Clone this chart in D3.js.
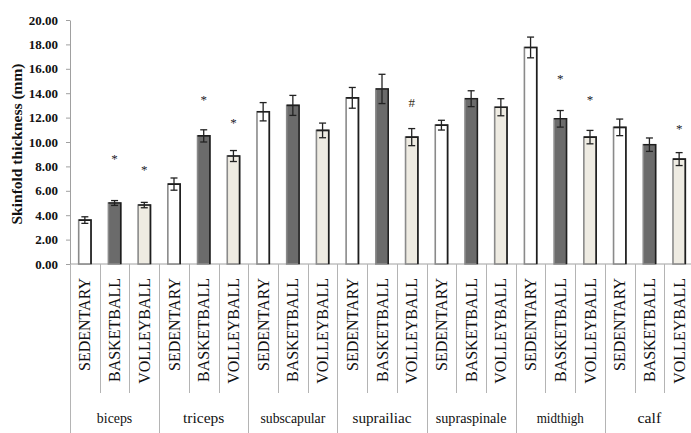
<!DOCTYPE html>
<html>
<head>
<meta charset="utf-8">
<script src="https://cdn.jsdelivr.net/npm/d3@7/dist/d3.min.js"></script>
<style>
  html, body { margin: 0; padding: 0; background: #fff; }
  svg { display: block; }
  svg text { font-family: "Liberation Serif", "Times New Roman", "DejaVu Serif", serif; }
</style>
</head>
<body>
<svg id="chart" width="691" height="433"></svg>
<script>
// Skinfold sites and the three groups compared at each site
const sites = ["biceps", "triceps", "subscapular", "suprailiac", "supraspinale", "midthigh", "calf"];
const groups = ["SEDENTARY", "BASKETBALL", "VOLLEYBALL"];

// Mean skinfold thickness (mm) and error per site
const sedentary      = [3.60, 6.55, 12.48, 13.62, 11.38, 17.75, 11.20];
const sedentaryErr   = [0.27, 0.50, 0.75, 0.85, 0.40, 0.85, 0.68];
const basketball     = [5.00, 10.50, 13.00, 14.35, 13.55, 11.90, 9.78];
const basketballErr  = [0.20, 0.50, 0.82, 1.20, 0.65, 0.68, 0.55];
const volleyball     = [4.83, 8.85, 10.95, 10.40, 12.85, 10.40, 8.60];
const volleyballErr  = [0.22, 0.45, 0.60, 0.70, 0.70, 0.55, 0.53];

// Significance markers: site, group, symbol, height (mm) where the symbol sits
const markSites   = ["biceps", "biceps", "triceps", "triceps", "suprailiac", "midthigh", "midthigh", "calf"];
const markGroups  = ["BASKETBALL", "VOLLEYBALL", "BASKETBALL", "VOLLEYBALL", "VOLLEYBALL", "BASKETBALL", "VOLLEYBALL", "VOLLEYBALL"];
const markSymbols = ["*", "*", "*", "*", "#", "*", "*", "*"];
const markLevels  = [8.66, 7.76, 13.5, 11.66, 13.22, 15.27, 13.5, 11.17];

const yTicks = d3.range(0, 20.001, 2);

const means = { SEDENTARY: sedentary, BASKETBALL: basketball, VOLLEYBALL: volleyball };
const errs  = { SEDENTARY: sedentaryErr, BASKETBALL: basketballErr, VOLLEYBALL: volleyballErr };
const fills = { SEDENTARY: "#ffffff", BASKETBALL: "#6b6b6b", VOLLEYBALL: "#eeebe2" };

// one row per bar, in drawing order
const rows = [];
sites.forEach((s, i) => groups.forEach(g => rows.push({
  key: s + "|" + g, site: s, group: g, value: means[g][i], err: errs[g][i]
})));

const svg = d3.select("#chart");
const plotLeft = 70, plotRight = 694, plotTop = 20, plotBottom = 264;

const x = d3.scaleBand().domain(rows.map(r => r.key)).range([plotLeft, plotRight])
  .paddingInner(0.585).paddingOuter(0.2925);
const y = d3.scaleLinear().domain([0, 20]).range([plotBottom, plotTop]);
const step = x.step();

// y axis
const yAxis = svg.append("g").attr("transform", `translate(${plotLeft},0)`)
  .call(d3.axisLeft(y).tickValues(yTicks).tickFormat(d3.format(".2f")).tickSize(4).tickSizeOuter(0));
yAxis.attr("font-family", null).attr("font-size", null);
yAxis.select(".domain").attr("stroke", "#a0a0a0");
yAxis.selectAll(".tick line").attr("stroke", "#a0a0a0");
yAxis.selectAll(".tick text")
  .attr("x", -12)
  .style("font-weight", "bold").style("font-size", "13px")
  .attr("fill", "#111");

// y axis title
svg.append("text")
  .attr("transform", "translate(22,144) rotate(-90)")
  .attr("text-anchor", "middle")
  .style("font-weight", "bold").style("font-size", "15.5px")
  .attr("fill", "#111")
  .text("Skinfold thickness (mm)");

// baseline
svg.append("line").attr("x1", plotLeft).attr("x2", plotRight).attr("y1", plotBottom).attr("y2", plotBottom)
  .attr("stroke", "#a0a0a0");

// category dividers below the axis
const catLines = svg.append("g").attr("stroke", "#b4b4b4");
rows.forEach((r, i) => {
  const xb = x(r.key) - x.step() * x.paddingOuter();
  const isGroupEdge = i % 3 === 0;
  catLines.append("line")
    .attr("x1", Math.round(xb) + 0.5).attr("x2", Math.round(xb) + 0.5)
    .attr("y1", plotBottom).attr("y2", isGroupEdge ? 433 : 393);
});

// group labels, rotated
svg.append("g").selectAll("text").data(rows).join("text")
  .attr("transform", d => `translate(${x(d.key) + x.bandwidth() / 2 + 5.5},278) rotate(-90)`)
  .attr("text-anchor", "end")
  .style("font-size", "16px")
  .attr("fill", "#111")
  .text(d => d.group);

// site labels
svg.append("g").selectAll("text").data(sites).join("text")
  .attr("x", (d, i) => plotLeft + step * (3 * i + 1.5))
  .attr("y", 423)
  .attr("text-anchor", "middle")
  .style("font-size", "15px")
  .attr("fill", "#111")
  .attr("textLength", d => d.length * 5.9)
  .attr("lengthAdjust", "spacingAndGlyphs")
  .text(d => d);

// bars
const bars = svg.append("g");
bars.selectAll("rect").data(rows).join("rect")
  .attr("x", d => x(d.key))
  .attr("y", d => y(d.value))
  .attr("width", x.bandwidth())
  .attr("height", d => y(0) - y(d.value))
  .attr("fill", d => fills[d.group])
  .attr("stroke", "#8a8a8a").attr("stroke-width", 1.6);
// darker top and right edges
bars.selectAll("path").data(rows).join("path")
  .attr("d", d => `M${x(d.key)},${y(d.value)}H${x(d.key) + x.bandwidth()}V${y(0)}`)
  .attr("fill", "none").attr("stroke", "#1e1e1e").attr("stroke-width", 1.6);

// error bars
const eb = svg.append("g").attr("stroke", "#222").attr("stroke-width", 1.3);
rows.forEach(d => {
  const cx = x(d.key) + x.bandwidth() / 2;
  eb.append("line").attr("x1", cx).attr("x2", cx).attr("y1", y(d.value + d.err)).attr("y2", y(d.value - d.err));
  eb.append("line").attr("x1", cx - 3.5).attr("x2", cx + 3.5).attr("y1", y(d.value + d.err)).attr("y2", y(d.value + d.err));
  eb.append("line").attr("x1", cx - 3.5).attr("x2", cx + 3.5).attr("y1", y(d.value - d.err)).attr("y2", y(d.value - d.err));
});

// significance markers
svg.append("g").selectAll("text").data(markSites).join("text")
  .attr("x", (s, i) => x(s + "|" + markGroups[i]) + x.bandwidth() / 2)
  .attr("y", (s, i) => y(markLevels[i]) + (markSymbols[i] === "#" ? 4.5 : 5))
  .attr("text-anchor", "middle")
  .style("font-size", "13px")
  .attr("fill", (s, i) => markSymbols[i] === "#" ? "#3a3020" : "#1a1a2a")
  .text((s, i) => markSymbols[i]);
</script>
</body>
</html>
